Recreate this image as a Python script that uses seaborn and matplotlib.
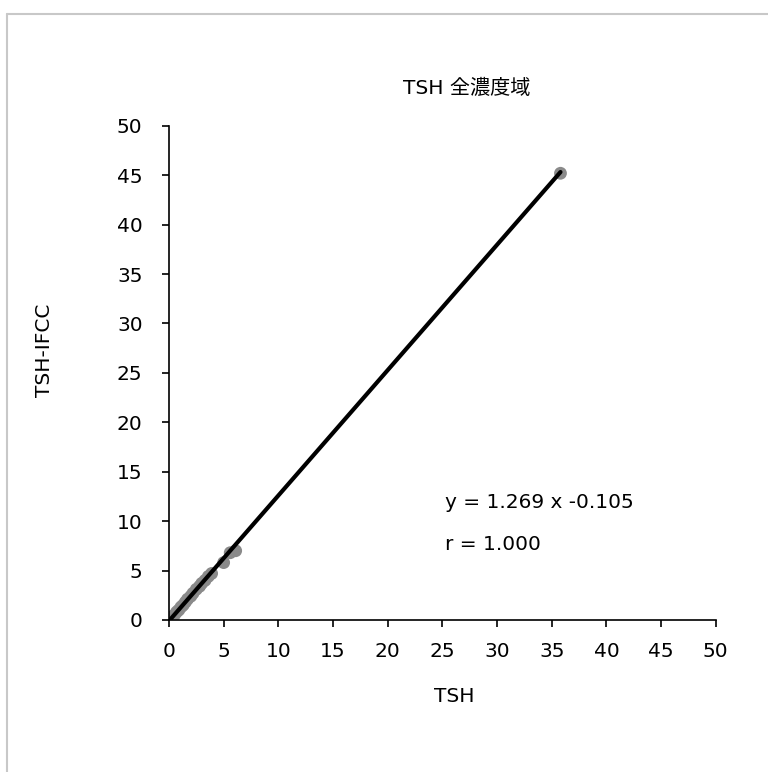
import matplotlib
matplotlib.use("Agg")
import matplotlib.pyplot as plt
import seaborn as sns
import pandas as pd
from matplotlib.lines import Line2D

# data
tsh = [0.1, 0.3, 0.5, 0.7, 0.9, 1.1, 1.3, 1.5, 1.7, 2.0, 2.2, 2.5, 2.8, 3.0, 3.3, 3.6, 3.9, 5.0, 5.6, 6.1, 35.8]
tsh_ifcc = [0.0, 0.3, 0.5, 0.8, 1.0, 1.3, 1.5, 1.8, 2.1, 2.4, 2.7, 3.1, 3.4, 3.7, 4.0, 4.4, 4.7, 5.8, 6.8, 7.0, 45.2]
slope = 1.269
intercept = -0.105
r_value = 1.000
ticks = [0, 5, 10, 15, 20, 25, 30, 35, 40, 45, 50]

sns.set_theme(style="white")
plt.rcParams["font.family"] = ["DejaVu Sans", "Noto Sans CJK JP"]
plt.rcParams["text.color"] = "black"
plt.rcParams["xtick.color"] = "black"
plt.rcParams["ytick.color"] = "black"

FS = 14.5

df = pd.DataFrame({"TSH": tsh, "TSH-IFCC": tsh_ifcc})

fig = plt.figure(figsize=(7.68, 7.72), dpi=100)
ax = fig.add_axes([0.22, 0.197, 0.712, 0.64])

sns.scatterplot(data=df, x="TSH", y="TSH-IFCC", ax=ax, color="#8a8a8a",
                s=85, edgecolor="none", zorder=2)

x_line = [min(tsh), max(tsh)]
y_line = [slope * x + intercept for x in x_line]
ax.plot(x_line, y_line, color="black", lw=3, zorder=3)

ax.set_xlim(0, 50)
ax.set_ylim(0, 50)
ax.set_xticks(ticks)
ax.set_yticks(ticks)
ax.tick_params(axis="both", labelsize=FS, length=5, width=1.2,
               direction="out", bottom=True, left=True)
ax.tick_params(axis="y", pad=14)
ax.tick_params(axis="x", pad=11)
for side in ["top", "right"]:
    ax.spines[side].set_visible(False)
for side in ["left", "bottom"]:
    ax.spines[side].set_color("black")
    ax.spines[side].set_linewidth(1.2)
ax.set_xlabel("")
ax.set_ylabel("")

fig.text(467 / 768, 1 - 88 / 772, "TSH 全濃度域", ha="center", va="center", fontsize=FS)
fig.text(454 / 768, 1 - 697 / 772, "TSH", ha="center", va="center", fontsize=FS)
fig.text(45 / 768, 1 - 350 / 772, "TSH-IFCC", ha="center", va="center",
         rotation=90, fontsize=FS)

fig.text(445 / 768, 1 - 503 / 772, f"y = {slope:.3f} x {intercept:.3f}",
         ha="left", va="center", fontsize=FS)
fig.text(445 / 768, 1 - 544 / 772, f"r = {r_value:.3f}",
         ha="left", va="center", fontsize=FS)

# chart area frame (only left and top edges visible)
fig.add_artist(Line2D([7 / 768, 7 / 768], [0, 1 - 14 / 772],
                      transform=fig.transFigure, color="#c8c8c8", lw=1.5))
fig.add_artist(Line2D([7 / 768, 1], [1 - 14 / 772, 1 - 14 / 772],
                      transform=fig.transFigure, color="#c8c8c8", lw=1.5))

fig.savefig("out.png", dpi=100, facecolor="white")
